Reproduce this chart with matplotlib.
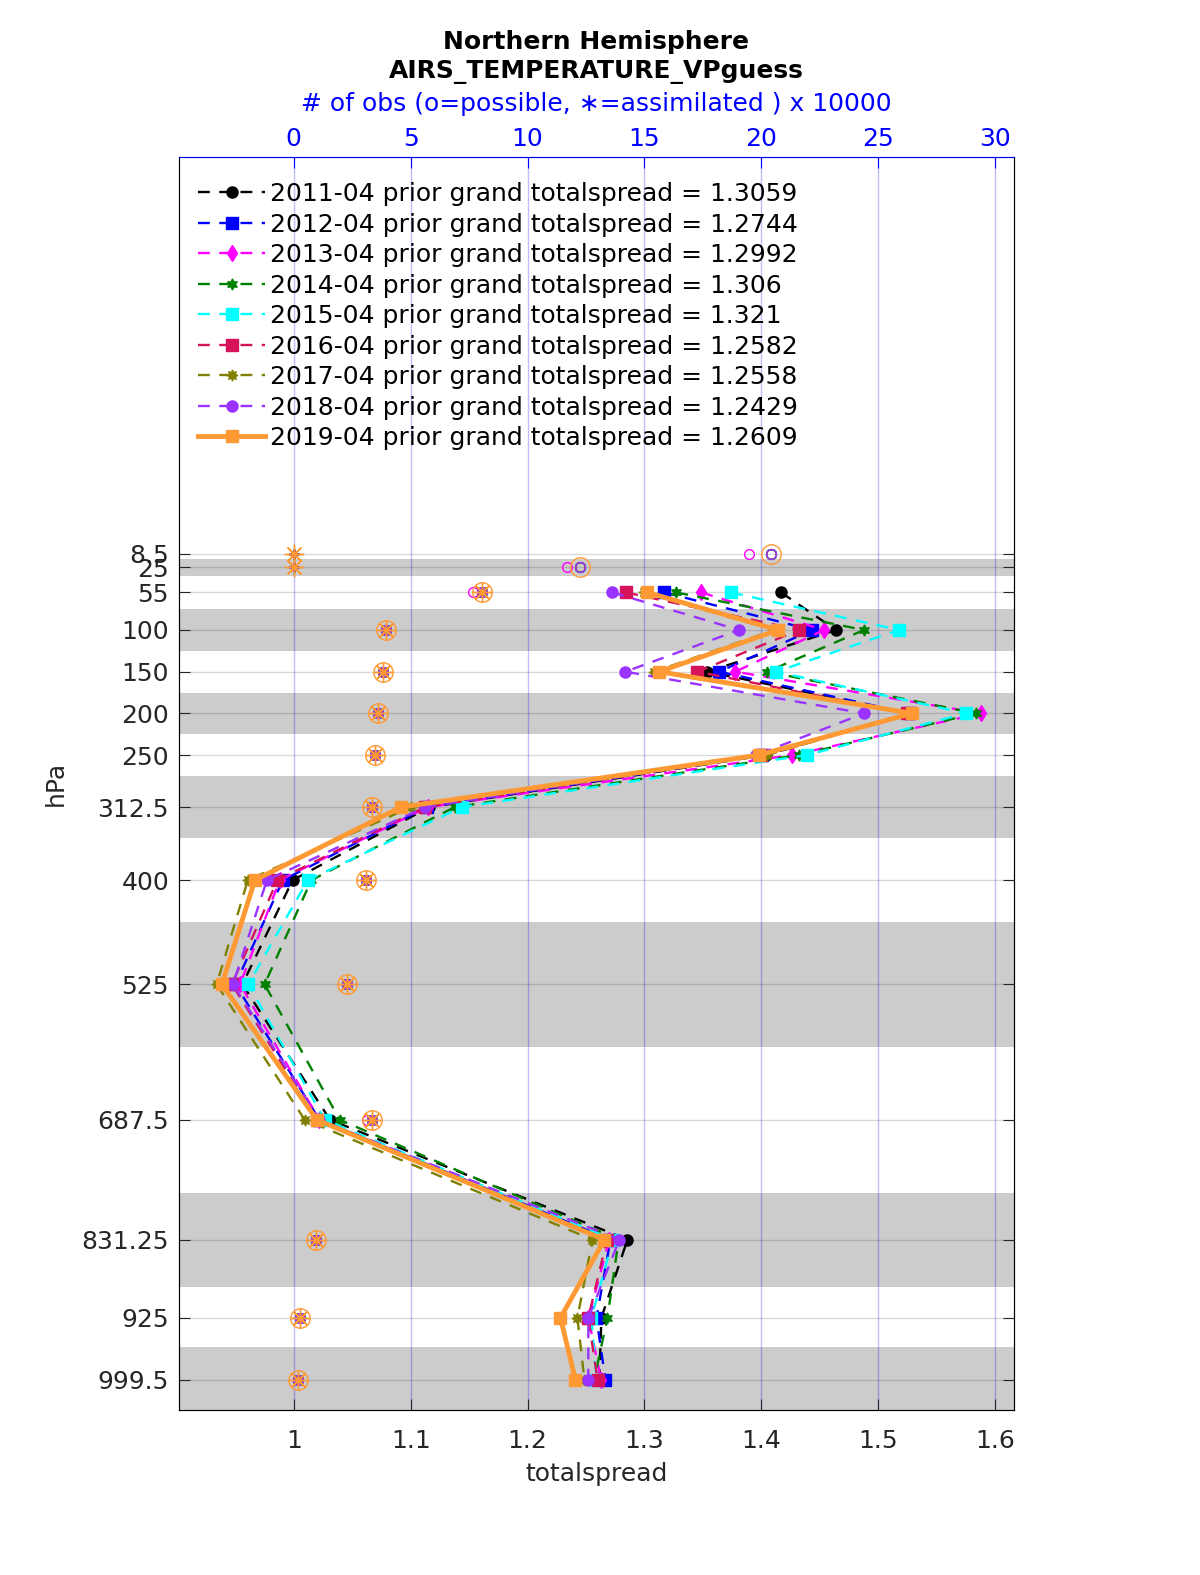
import matplotlib
matplotlib.use('Agg')
import matplotlib.pyplot as plt
import numpy as np

# pressure levels (hPa)
levels = [8.5, 25, 55, 100, 150, 200, 250, 312.5, 400, 525, 687.5, 831.25, 925, 999.5]
level_labels = ['8.5', '25', '55', '100', '150', '200', '250', '312.5', '400', '525',
                '687.5', '831.25', '925', '999.5']

# shaded layers (top, bottom) in hPa
gray_layers = [(15, 35), (75, 125), (175, 225), (275, 350), (450, 600), (775, 887.5), (960, 1040)]

# totalspread per year, nan where no data
spread_2011 = [np.nan, np.nan, 1.417, 1.464, 1.354, 1.527, 1.404, 1.116, 0.999, 0.956, 1.031, 1.2855, 1.2632, 1.2615]
spread_2012 = [np.nan, np.nan, 1.317, 1.4436, 1.3641, 1.527, 1.401, 1.114, 0.9906, 0.950, 1.022, 1.271, 1.259, 1.2667]
spread_2013 = [np.nan, np.nan, 1.3487, 1.4538, 1.3778, 1.588, 1.4265, 1.1145, 0.988, 0.954, 1.022, 1.270, 1.2521, 1.263]
spread_2014 = [np.nan, np.nan, 1.3274, 1.488, 1.4051, 1.5838, 1.432, 1.1376, 1.015, 0.975, 1.0393, 1.278, 1.2684, 1.257]
spread_2015 = [np.nan, np.nan, 1.3744, 1.518, 1.4128, 1.575, 1.439, 1.1436, 1.012, 0.961, 1.0265, 1.273, 1.2547, 1.259]
spread_2016 = [np.nan, np.nan, 1.2846, 1.4325, 1.3453, 1.525, 1.400, 1.112, 0.986, 0.947, 1.020, 1.268, 1.252, 1.260]
spread_2017 = [np.nan, np.nan, 1.300, 1.411, 1.3085, 1.527, 1.405, 1.100, 0.9607, 0.934, 1.0094, 1.2556, 1.2427, 1.2487]
spread_2018 = [np.nan, np.nan, 1.2726, 1.381, 1.2838, 1.488, 1.3957, 1.112, 0.977, 0.948, 1.022, 1.2786, 1.2521, 1.252]
spread_2019 = [np.nan, np.nan, 1.3026, 1.4145, 1.3128, 1.529, 1.398, 1.0915, 0.9667, 0.9385, 1.0197, 1.2658, 1.2282, 1.241]

# number of obs (x 10000)
nposs = [20.41, 12.24, 8.04, 3.94, 3.81, 3.59, 3.47, 3.34, 3.08, 2.27, 3.34, 0.94, 0.26, 0.17]
nposs_2013 = [19.47, 11.68, 7.66, 3.94, 3.81, 3.59, 3.47, 3.34, 3.08, 2.27, 3.12, 0.94, 0.26, 0.17]
nused = [0, 0, 8.04, 3.94, 3.81, 3.59, 3.47, 3.34, 3.08, 2.27, 3.34, 0.94, 0.26, 0.17]

years = ['2011-04', '2012-04', '2013-04', '2014-04', '2015-04', '2016-04', '2017-04', '2018-04', '2019-04']
grand_total = ['1.3059', '1.2744', '1.2992', '1.306', '1.321', '1.2582', '1.2558', '1.2429', '1.2609']

spreads = [spread_2011, spread_2012, spread_2013, spread_2014, spread_2015,
           spread_2016, spread_2017, spread_2018, spread_2019]
colors = ['black', 'blue', 'magenta', '#008000', 'cyan', '#d5125a', '#808000', '#9a33ff', '#ff9933']
markers = ['o', 's', 'd', (6, 1, 0), 's', 's', (8, 1, 0), 'o', 's']

fig = plt.figure(figsize=(12, 15.75), dpi=100)
ax = fig.add_axes([0.149, 0.1048, 0.696, 0.7955])

for top, bot in gray_layers:
    ax.axhspan(top, bot, color='#cccccc', lw=0, zorder=0)
for lev in levels:
    ax.axhline(lev, color='k', alpha=0.15, lw=1, zorder=1)
for xv in np.arange(1.0, 1.61, 0.1):
    ax.axvline(xv, color='blue', alpha=0.25, lw=1, zorder=1)

for i in range(len(years)):
    lab = years[i] + ' prior grand totalspread = ' + grand_total[i]
    if i == 8:
        ax.plot(spreads[i], levels, '-', color=colors[i], marker=markers[i], ms=9, lw=3.5,
                label=lab, zorder=5)
    else:
        ax.plot(spreads[i], levels, color=colors[i], marker=markers[i], ms=8, lw=1.7,
                dashes=(5, 4), label=lab, zorder=3)

ax.set_xlim(0.9016, 1.6163)
ax.set_ylim(1035.5, -467.3)
ax.set_yticks(levels)
ax.set_yticklabels(level_labels)
ax.set_xticks([1, 1.1, 1.2, 1.3, 1.4, 1.5, 1.6])
ax.set_xticklabels(['1', '1.1', '1.2', '1.3', '1.4', '1.5', '1.6'])
ax.tick_params(direction='in', length=8, labelsize=18, colors='#262626', right=True)
ax.tick_params(axis='x', pad=14)
ax.tick_params(axis='y', pad=7)
for s in ax.spines.values():
    s.set_color('#262626')
ax.set_xlabel('totalspread', fontsize=18, color='#262626', labelpad=6)
ax.set_ylabel('hPa', fontsize=18, color='#262626', labelpad=10)

leg = ax.legend(loc='upper left', bbox_to_anchor=(0.011, 0.988), frameon=False, fontsize=18,
                handlelength=2.7, handletextpad=0.2, labelspacing=0.26, borderaxespad=0)

# obs counts on the top axis
ax2 = ax.twiny()
for i in range(len(years)):
    poss = nposs_2013 if i == 2 else nposs
    big = 14 if i == 8 else 7
    ax2.plot(poss, levels, 'o', mfc='none', mec=colors[i], ms=big, mew=1)
    ax2.plot(nused, levels, marker=(8, 2, 0), ls='none', color=colors[i], ms=big, mew=1)
ax2.set_xlim((0.9016 - 1) * 50, (1.6163 - 1) * 50)
ax2.set_ylim(1035.5, -467.3)
ax2.set_xticks([0, 5, 10, 15, 20, 25, 30])
ax2.tick_params(axis='x', direction='in', length=8, labelsize=18, colors='blue', pad=4)
ax2.spines['top'].set_color('blue')
ax2.set_xlabel('# of obs (o=possible, \u2217=assimilated ) x 10000', fontsize=18, color='blue', labelpad=12)

fig.text(0.497, 0.9735, 'Northern Hemisphere', ha='center', va='center', fontsize=18, fontweight='bold')
fig.text(0.497, 0.9545, 'AIRS_TEMPERATURE_VPguess', ha='center', va='center', fontsize=18, fontweight='bold')

fig.savefig('out.png', dpi=100)
